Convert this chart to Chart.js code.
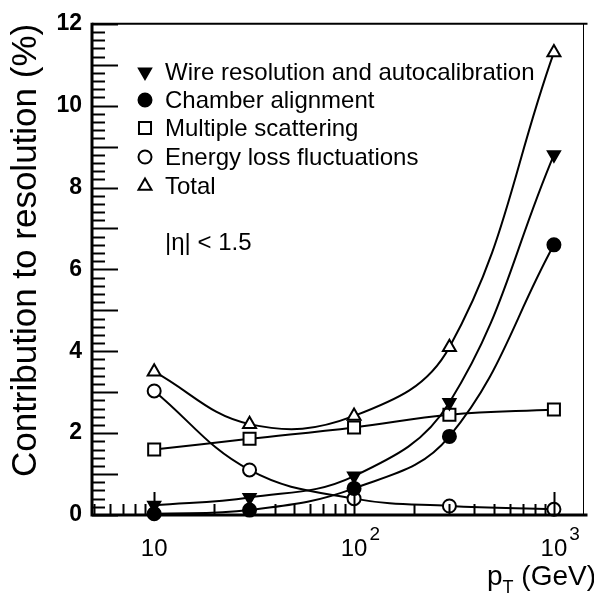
<!DOCTYPE html>
<html><head><meta charset="utf-8">
<script src="https://cdn.jsdelivr.net/npm/chart.js@4.4.1/dist/chart.umd.min.js"></script>
<style>html,body{margin:0;padding:0;background:#fff;} canvas{display:block;}</style>
</head><body>
<canvas id="c" width="594" height="599"></canvas>
<script>
// ---- data ----
const ptValues = [10, 30, 100, 300, 1000];
const wireRes = [0.24, 0.43, 0.95, 2.75, 8.8];
const chamberAlign = [0.03, 0.12, 0.65, 1.92, 6.6];
const multScatter = [1.6, 1.86, 2.14, 2.45, 2.58];
const energyLoss = [3.03, 1.1, 0.4, 0.22, 0.14];
const totalRes = [3.5, 2.22, 2.42, 4.1, 11.3];
const seriesLabels = ["Wire resolution and autocalibration", "Chamber alignment", "Multiple scattering", "Energy loss fluctuations", "Total"];
const xTickValues = [10, 100, 1000];
const xTickBase = ["10", "10", "10"];
const xTickExp = ["", "2", "3"];
const yMin = 0, yMax = 12, yLabelStep = 2;
const yTitle = "Contribution to resolution (%)";
const xTitleMain = "p", xTitleSub = "T", xTitleRest = " (GeV)";
const annotationText = "|\u03B7| < 1.5";

const FONT = "'Liberation Sans', Arial, Helvetica, sans-serif";
const styles = [
  {pointStyle: 'triangle', rotation: 180, radius: 7, bg: '#000'},
  {pointStyle: 'circle', rotation: 0, radius: 6.5, bg: '#000'},
  {pointStyle: 'rect', rotation: 0, radius: 8.5, bg: '#fff'},
  {pointStyle: 'circle', rotation: 0, radius: 6.5, bg: '#fff'},
  {pointStyle: 'triangle', rotation: 0, radius: 7.5, bg: '#fff'}
];
const seriesData = [wireRes, chamberAlign, multScatter, energyLoss, totalRes];

const datasets = seriesData.map((vals, i) => ({
  label: seriesLabels[i],
  data: ptValues.map((x, j) => ({x: x, y: vals[j]})),
  borderColor: '#000',
  borderWidth: 2,
  tension: 0.4,
  pointStyle: styles[i].pointStyle,
  rotation: styles[i].rotation,
  pointRadius: styles[i].radius,
  pointBackgroundColor: styles[i].bg,
  pointBorderColor: '#000',
  pointBorderWidth: 2,
  clip: false,
  fill: false
}));

const framePlugin = {
  id: 'frame',
  afterDatasetsDraw(chart) {
    const ctx = chart.ctx, a = chart.chartArea;
    const xs = chart.scales.x, ys = chart.scales.y;
    ctx.save();
    ctx.strokeStyle = '#000';
    // frame
    ctx.lineWidth = 2;
    ctx.beginPath(); ctx.moveTo(a.left, a.top); ctx.lineTo(a.right + 4, a.top); ctx.stroke();
    ctx.lineWidth = 1;
    ctx.beginPath(); ctx.moveTo(a.right, a.top); ctx.lineTo(a.right, a.bottom); ctx.stroke();
    ctx.lineWidth = 3;
    ctx.beginPath(); ctx.moveTo(a.left, a.top - 1); ctx.lineTo(a.left, a.bottom); ctx.lineTo(a.right + 4, a.bottom); ctx.stroke();
    // y ticks (inside)
    ctx.lineWidth = 2;
    for (let k = 0; k <= 60; k++) {
      const v = yMin + k * 0.2;
      if (v > yMax + 1e-9) break;
      const py = Math.round(ys.getPixelForValue(v)) + 0.5;
      const len = (k % 5 === 0) ? 26 : 13;
      ctx.beginPath(); ctx.moveTo(a.left, py); ctx.lineTo(a.left + len, py); ctx.stroke();
    }
    // x ticks (inside)
    for (let e = 0; e <= 3; e++) {
      for (let n = 1; n <= 9; n++) {
        const v = n * Math.pow(10, e);
        if (v < xs.min || v > xs.max) continue;
        const px = Math.round(xs.getPixelForValue(v)) + 0.5;
        const len = (n === 1) ? 23 : 11;
        ctx.beginPath(); ctx.moveTo(px, a.bottom); ctx.lineTo(px, a.bottom - len); ctx.stroke();
      }
    }
    // x tick labels with superscripts
    ctx.fillStyle = '#000';
    ctx.textBaseline = 'alphabetic';
    xTickValues.forEach((v, i) => {
      const px = xs.getPixelForValue(v);
      ctx.font = '24px ' + FONT;
      const bw = ctx.measureText(xTickBase[i]).width;
      const x0 = px - bw / 2;
      ctx.textAlign = 'left';
      ctx.fillText(xTickBase[i], x0, 556);
      if (xTickExp[i]) {
        ctx.font = '19px ' + FONT;
        ctx.fillText(xTickExp[i], x0 + bw + 2, 540);
      }
    });
    // x title
    ctx.font = '28px ' + FONT;
    const w1 = ctx.measureText(xTitleMain).width;
    const w3 = ctx.measureText(xTitleRest).width;
    ctx.font = '18px ' + FONT;
    const w2 = ctx.measureText(xTitleSub).width;
    let xt = 594 - (w1 + w2 + w3) + 2;
    ctx.font = '28px ' + FONT;
    ctx.fillText(xTitleMain, xt, 585);
    ctx.font = '18px ' + FONT;
    ctx.fillText(xTitleSub, xt + w1, 593);
    ctx.font = '28px ' + FONT;
    ctx.fillText(xTitleRest, xt + w1 + w2, 585);
    // legend
    const rowY = [72, 100, 128, 157, 186];
    seriesLabels.forEach((lab, i) => {
      const s = styles[i];
      ctx.fillStyle = s.bg; ctx.strokeStyle = '#000'; ctx.lineWidth = 2;
      Chart.helpers.drawPoint(ctx, {pointStyle: s.pointStyle, rotation: s.rotation, radius: s.radius, borderWidth: 2}, 145, rowY[i]);
      ctx.fillStyle = '#000';
      ctx.font = '24px ' + FONT;
      ctx.textAlign = 'left'; ctx.textBaseline = 'middle';
      ctx.fillText(lab, 165, rowY[i] + 1);
    });
    ctx.fillText(annotationText, 165, 243);
    ctx.restore();
  }
};

new Chart(document.getElementById('c'), {
  type: 'line',
  data: {datasets},
  options: {
    responsive: false,
    animation: false,
    devicePixelRatio: 1,
    layout: {padding: {top: 14, right: 4, left: 0, bottom: 0}},
    plugins: {legend: {display: false}, tooltip: {enabled: false}},
    scales: {
      x: {
        type: 'logarithmic',
        min: 4.885, max: 1406,
        grid: {display: false, drawTicks: false},
        border: {display: false},
        ticks: {display: false},
        afterBuildTicks: (s) => { s.ticks = xTickValues.map(v => ({value: v})); },
        afterFit: (s) => { s.height = 84; }
      },
      y: {
        min: yMin, max: yMax,
        grid: {display: false, drawTicks: false},
        border: {display: false},
        ticks: {stepSize: yLabelStep, padding: 10, color: '#000', font: {family: FONT, size: 23, weight: 'bold'}},
        title: {display: true, text: yTitle, color: '#000', align: 'end', font: {family: FONT, size: 35, lineHeight: 1.1}, padding: {top: 7, bottom: 0}},
        afterFit: (s) => { s.width = 92; }
      }
    }
  },
  plugins: [framePlugin]
});
</script>
</body></html>
